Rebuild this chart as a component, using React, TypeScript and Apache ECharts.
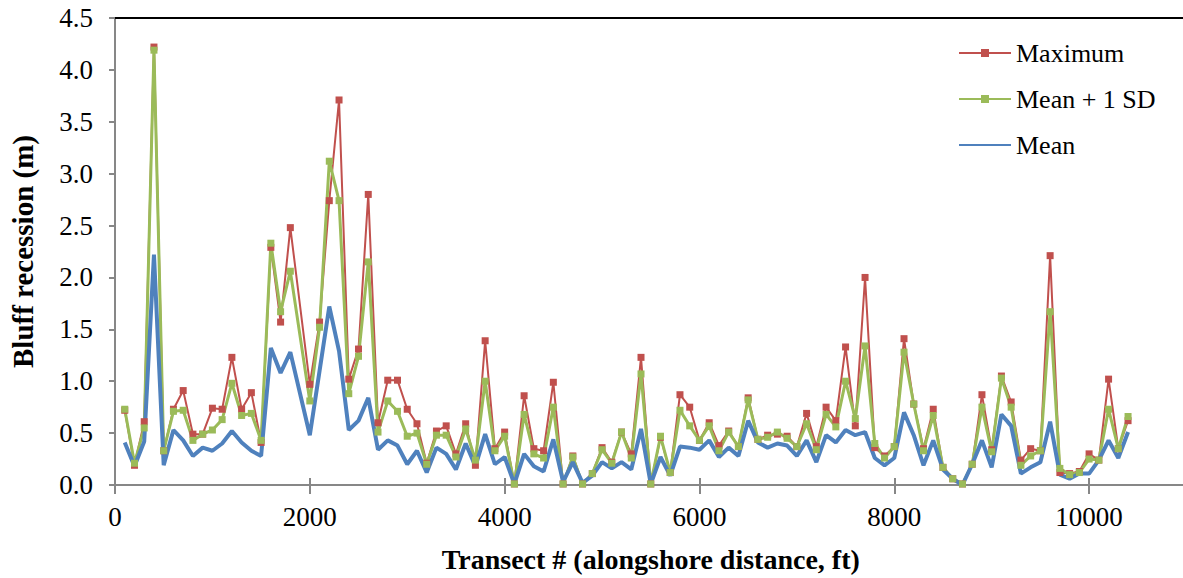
import React, { useEffect, useRef } from "react";
import * as echarts from "echarts";

// Alongshore transect positions (ft); transect 1900 has no survey.
const transects = [
  100, 200, 300, 400, 500, 600, 700, 800, 900, 1000,
  1100, 1200, 1300, 1400, 1500, 1600, 1700, 1800, 2000,
  2100, 2200, 2300, 2400, 2500, 2600, 2700, 2800, 2900, 3000,
  3100, 3200, 3300, 3400, 3500, 3600, 3700, 3800, 3900, 4000,
  4100, 4200, 4300, 4400, 4500, 4600, 4700, 4800, 4900, 5000,
  5100, 5200, 5300, 5400, 5500, 5600, 5700, 5800, 5900, 6000,
  6100, 6200, 6300, 6400, 6500, 6600, 6700, 6800, 6900, 7000,
  7100, 7200, 7300, 7400, 7500, 7600, 7700, 7800, 7900, 8000,
  8100, 8200, 8300, 8400, 8500, 8600, 8700, 8800, 8900, 9000,
  9100, 9200, 9300, 9400, 9500, 9600, 9700, 9800, 9900, 10000,
  10100, 10200, 10300, 10400,
];

// Bluff recession (m) per transect
const maximum = [
  0.72, 0.19, 0.61, 4.22, 0.33, 0.73, 0.91, 0.49, 0.49, 0.74,
  0.73, 1.23, 0.73, 0.89, 0.41, 2.29, 1.57, 2.48, 0.97,
  1.57, 2.74, 3.71, 1.02, 1.31, 2.8, 0.6, 1.01, 1.01, 0.73,
  0.59, 0.21, 0.52, 0.57, 0.3, 0.59, 0.19, 1.39, 0.35, 0.51,
  0.01, 0.86, 0.35, 0.33, 0.99, 0.01, 0.28, 0.01, 0.11, 0.36,
  0.22, 0.51, 0.3, 1.23, 0.01, 0.46, 0.12, 0.87, 0.75, 0.43,
  0.6, 0.38, 0.52, 0.37, 0.84, 0.44, 0.48, 0.49, 0.47, 0.37,
  0.69, 0.37, 0.75, 0.62, 1.33, 0.57, 2.0, 0.36, 0.28, 0.37,
  1.41, 0.78, 0.35, 0.73, 0.17, 0.06, 0.01, 0.2, 0.87, 0.34,
  1.05, 0.8, 0.24, 0.35, 0.33, 2.21, 0.12, 0.11, 0.13, 0.3,
  0.24, 1.02, 0.35, 0.62,
];

const meanPlusSd = [
  0.73, 0.21, 0.55, 4.19, 0.33, 0.71, 0.72, 0.43, 0.49, 0.53,
  0.63, 0.98, 0.67, 0.69, 0.43, 2.33, 1.67, 2.06, 0.81,
  1.52, 3.12, 2.74, 0.88, 1.24, 2.15, 0.51, 0.81, 0.71, 0.47,
  0.5, 0.2, 0.48, 0.48, 0.27, 0.54, 0.24, 1.0, 0.33, 0.47,
  0.01, 0.68, 0.3, 0.26, 0.75, 0.01, 0.27, 0.01, 0.11, 0.34,
  0.21, 0.51, 0.26, 1.07, 0.01, 0.47, 0.12, 0.72, 0.57, 0.43,
  0.57, 0.33, 0.51, 0.37, 0.82, 0.44, 0.46, 0.51, 0.45, 0.37,
  0.59, 0.34, 0.68, 0.56, 1.0, 0.64, 1.34, 0.4, 0.26, 0.37,
  1.28, 0.78, 0.33, 0.67, 0.17, 0.06, 0.01, 0.2, 0.75, 0.32,
  1.03, 0.75, 0.19, 0.28, 0.33, 1.67, 0.16, 0.1, 0.12, 0.25,
  0.24, 0.73, 0.35, 0.66,
];

const mean = [
  0.41, 0.18, 0.42, 2.22, 0.19, 0.53, 0.43, 0.28, 0.36, 0.33,
  0.4, 0.52, 0.41, 0.33, 0.28, 1.32, 1.08, 1.28, 0.48,
  1.1, 1.72, 1.29, 0.53, 0.62, 0.84, 0.34, 0.43, 0.38, 0.2,
  0.33, 0.12, 0.36, 0.3, 0.15, 0.4, 0.18, 0.49, 0.2, 0.27,
  0.01, 0.3, 0.18, 0.13, 0.44, 0.03, 0.22, 0.02, 0.09, 0.22,
  0.16, 0.22, 0.15, 0.54, 0.01, 0.27, 0.09, 0.37, 0.36, 0.34,
  0.43, 0.27, 0.36, 0.28, 0.62, 0.41, 0.36, 0.4, 0.38, 0.28,
  0.43, 0.22, 0.48, 0.41, 0.53, 0.48, 0.51, 0.26, 0.19, 0.26,
  0.7, 0.48, 0.19, 0.43, 0.15, 0.06, 0.0, 0.2, 0.43, 0.17,
  0.68, 0.57, 0.11, 0.17, 0.22, 0.61, 0.1, 0.06, 0.11, 0.11,
  0.24, 0.43, 0.26, 0.51,
];

const seriesNames = ["Maximum", "Mean + 1 SD", "Mean"];
const FONT = '"Liberation Serif", "Times New Roman", serif';
const AXIS_GRAY = "#878787";

const pairs = (vals: number[]) => transects.map((t, i) => [t, vals[i]]);

export default function App() {
  const ref = useRef<HTMLDivElement>(null);

  useEffect(() => {
    if (!ref.current) return;
    const chart = echarts.init(ref.current, undefined, { renderer: "svg" });

    const bottomAxisBase = {
      type: "value" as const,
      min: 0,
      max: 11000,
      interval: 2000,
      position: "bottom" as const,
      splitLine: { show: false },
    };

    chart.setOption({
      animation: false,
      backgroundColor: "#ffffff",
      textStyle: { fontFamily: FONT, color: "#000" },
      grid: { left: 103, top: 18, width: 1083.5, height: 470, containLabel: false },
      legend: {
        orient: "vertical",
        left: 953,
        top: 35,
        itemWidth: 52,
        itemHeight: 10,
        itemGap: 20,
        data: [
          { name: seriesNames[0] },
          { name: seriesNames[1] },
          // the mean is drawn as a plain line, so its key has no marker
          { name: seriesNames[2], itemStyle: { opacity: 0 } },
        ],
        textStyle: { fontFamily: FONT, fontSize: 26, color: "#000", lineHeight: 26 },
      },
      xAxis: [
        {
          ...bottomAxisBase,
          name: "Transect # (alongshore distance, ft)",
          nameLocation: "middle",
          nameGap: 60,
          nameTextStyle: { fontFamily: FONT, fontSize: 28, fontWeight: "bold", color: "#000" },
          axisLine: { show: true, onZero: false, lineStyle: { color: AXIS_GRAY, width: 2 } },
          axisTick: { show: true, inside: false, length: 9, lineStyle: { color: AXIS_GRAY, width: 2 } },
          axisLabel: {
            show: true,
            margin: 18,
            fontFamily: FONT,
            fontSize: 27,
            color: "#000",
            showMaxLabel: false,
            formatter: (v: number) => (v > 10000 ? "" : String(v)),
          },
        },
        {
          // upper half of the crossing tick marks
          ...bottomAxisBase,
          axisLine: { show: false, onZero: false },
          axisTick: { show: true, inside: true, length: 7, lineStyle: { color: AXIS_GRAY, width: 2 } },
          axisLabel: { show: false },
        },
        {
          // dark frame line along the top of the plot
          ...bottomAxisBase,
          position: "top",
          axisLine: { show: true, onZero: false, lineStyle: { color: "#000", width: 2 } },
          axisTick: { show: false },
          axisLabel: { show: false },
        },
      ],
      yAxis: {
        type: "value",
        min: 0,
        max: 4.5,
        interval: 0.5,
        name: "Bluff recession (m)",
        nameLocation: "middle",
        nameGap: 78,
        nameTextStyle: { fontFamily: FONT, fontSize: 29, fontWeight: "bold", color: "#000" },
        splitLine: { show: false },
        axisLine: { show: true, lineStyle: { color: AXIS_GRAY, width: 2 } },
        axisTick: { show: true, inside: false, length: 6, lineStyle: { color: AXIS_GRAY, width: 2 } },
        axisLabel: {
          margin: 22,
          fontFamily: FONT,
          fontSize: 27,
          color: "#000",
          formatter: (v: number) => v.toFixed(1),
        },
      },
      series: [
        {
          name: seriesNames[0],
          type: "line",
          data: pairs(maximum),
          symbol: "rect",
          symbolSize: 7,
          showSymbol: true,
          color: "#C0504D",
          lineStyle: { width: 2, color: "#C0504D" },
          itemStyle: { color: "#C0504D" },
        },
        {
          name: seriesNames[1],
          type: "line",
          data: pairs(meanPlusSd),
          symbol: "rect",
          symbolSize: 7,
          showSymbol: true,
          color: "#9BBB59",
          lineStyle: { width: 3, color: "#9BBB59" },
          itemStyle: { color: "#9BBB59" },
        },
        {
          name: seriesNames[2],
          type: "line",
          data: pairs(mean),
          symbol: "none",
          color: "#4F81BD",
          lineStyle: { width: 4, color: "#4F81BD" },
        },
      ],
    });

    return () => chart.dispose();
  }, []);

  return (
    <div style={{ position: "fixed", left: 0, top: 0, width: 1183, height: 578, overflow: "hidden", background: "#fff" }}>
      <div ref={ref} style={{ width: 1190, height: 578 }} />
    </div>
  );
}
